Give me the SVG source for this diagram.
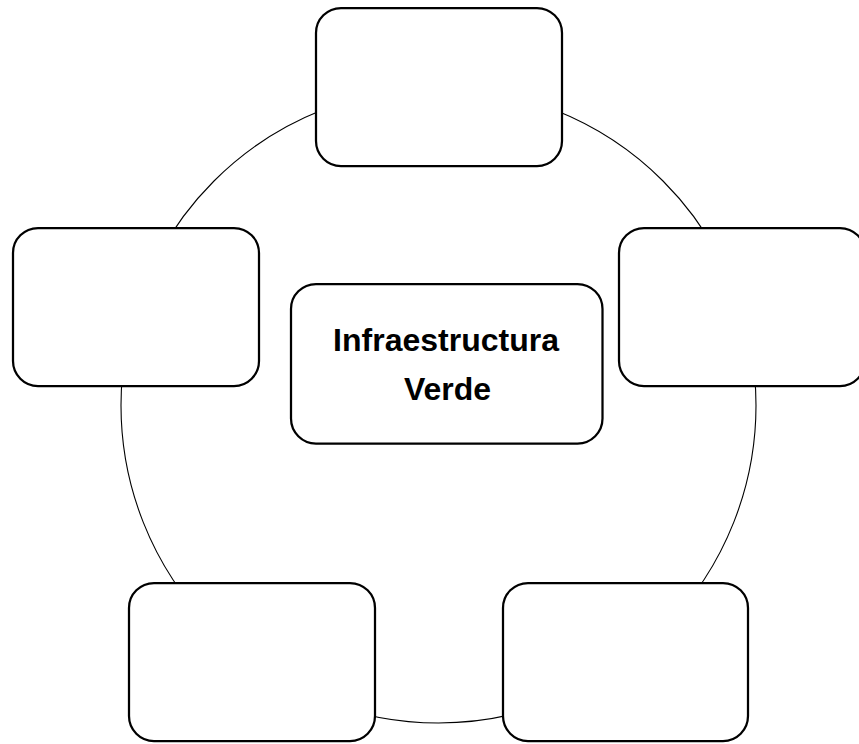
<svg xmlns="http://www.w3.org/2000/svg" width="859" height="744" viewBox="0 0 859 744">
  <style>
    .box { fill: #ffffff; stroke: #000000; stroke-width: 2.25; }
    .ring { fill: none; stroke: #000000; stroke-width: 1.1; }
    .label { font-family: "Liberation Sans", Arial, sans-serif; font-weight: bold; font-size: 32px; fill: #000000; text-anchor: middle; }
  </style>
  <rect width="859" height="744" fill="#ffffff"/>
  <g id="connectors">
    <circle class="ring" cx="438.5" cy="405.5" r="317.5"/>
  </g>
  <g id="node-top">
    <rect class="box" x="316" y="8" width="246" height="158" rx="25" ry="25"/>
  </g>
  <g id="node-left">
    <rect class="box" x="13" y="228" width="246" height="158" rx="25" ry="25"/>
  </g>
  <g id="node-right">
    <rect class="box" x="619" y="228" width="246" height="158" rx="25" ry="25"/>
  </g>
  <g id="node-bottom-left">
    <rect class="box" x="129" y="583" width="246" height="158" rx="25" ry="25"/>
  </g>
  <g id="node-bottom-right">
    <rect class="box" x="503" y="583" width="245" height="158" rx="25" ry="25"/>
  </g>
  <g id="node-center">
    <rect class="box" x="291" y="284" width="311.5" height="159.5" rx="25" ry="25"/>
    <text class="label" x="446" y="350.7">Infraestructura</text>
    <text class="label" x="447.5" y="400">Verde</text>
  </g>
</svg>
